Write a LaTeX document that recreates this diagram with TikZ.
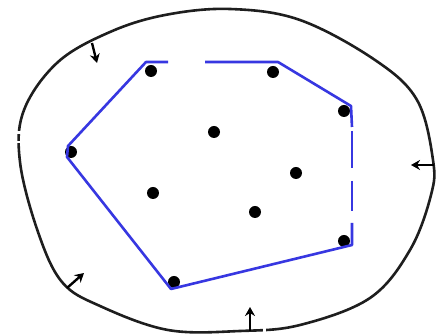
\documentclass[tikz,border=0pt]{standalone}
\usetikzlibrary{arrows.meta}
\definecolor{hullblue}{RGB}{55,55,225}
\definecolor{ink}{RGB}{30,30,30}
\begin{document}
\begin{tikzpicture}[x=1pt,y=-1pt,
  dot/.style={circle,fill=black,inner sep=0pt,minimum size=12pt},
  outer/.style={draw=ink,line width=2.6pt},
  hull/.style={draw=hullblue,line width=2.6pt,line join=round},
  push/.style={draw=black,line width=2.4pt,-{Stealth[length=9pt,width=10pt]}}]
\useasboundingbox[fill=white] (0,0) rectangle (440,336);
% outer boundary
\draw[outer] plot[smooth cycle,tension=0.6] coordinates {
 (230,9) (300,20) (375,60) (417,100) (433,160) (431,195) (410,250)
 (370,298) (300,325) (240,331) (168,330) (100,306) (62,282) (38,232)
 (20,162) (24,110) (58,62) (110,32) (165,15)};
% small gaps on the outer curve
\fill[white] (12,131) rectangle (30,134);
\fill[white] (12,141) rectangle (30,143);
\fill[white] (263,322) rectangle (266,336);
% points
\node[dot] (p1) at (151,71) {};
\node[dot] (p2) at (273,72) {};
\node[dot] (p3) at (344,111) {};
\node[dot] (p4) at (214,132) {};
\node[dot] (p5) at (71,152) {};
\node[dot] (p6) at (296,173) {};
\node[dot] (p7) at (153,193) {};
\node[dot] (p8) at (255,212) {};
\node[dot] (p9) at (344,241) {};
\node[dot] (p10) at (174,282) {};
% hull corners
\coordinate (h1) at (146,62);
\coordinate (h1b) at (168,62);
\coordinate (h2a) at (205,62);
\coordinate (h2) at (278,62);
\coordinate (h3) at (351,106);
\coordinate (h3b) at (352,127);
\coordinate (h4a) at (352,131);
\coordinate (h4b) at (352,168);
\coordinate (h5a) at (352,181);
\coordinate (h5b) at (352,211);
\coordinate (h6a) at (352,223);
\coordinate (h6) at (352,245);
\coordinate (h7) at (171,289);
\coordinate (h8) at (67,157);
\coordinate (h9) at (68,146);
\draw[hull] (h1b) -- (h1) -- (h9) -- (h8) -- (h7) -- (h6) -- (h6a);
\draw[hull] (h5a) -- (h5b);
\draw[hull] (h4a) -- (h4b);
\draw[hull] (h2a) -- (h2) -- (h3) -- (h3b);
% inward arrows
\coordinate (a1s) at (92,43);
\coordinate (a1e) at (97,63);
\coordinate (a2s) at (434,165);
\coordinate (a2e) at (411,165);
\coordinate (a3s) at (67,288);
\coordinate (a3e) at (84,273);
\coordinate (a4s) at (250,331);
\coordinate (a4e) at (250,307);
\draw[push] (a1s) -- (a1e);
\draw[push] (a2s) -- (a2e);
\draw[push] (a3s) -- (a3e);
\draw[push] (a4s) -- (a4e);
\end{tikzpicture}
\end{document}
